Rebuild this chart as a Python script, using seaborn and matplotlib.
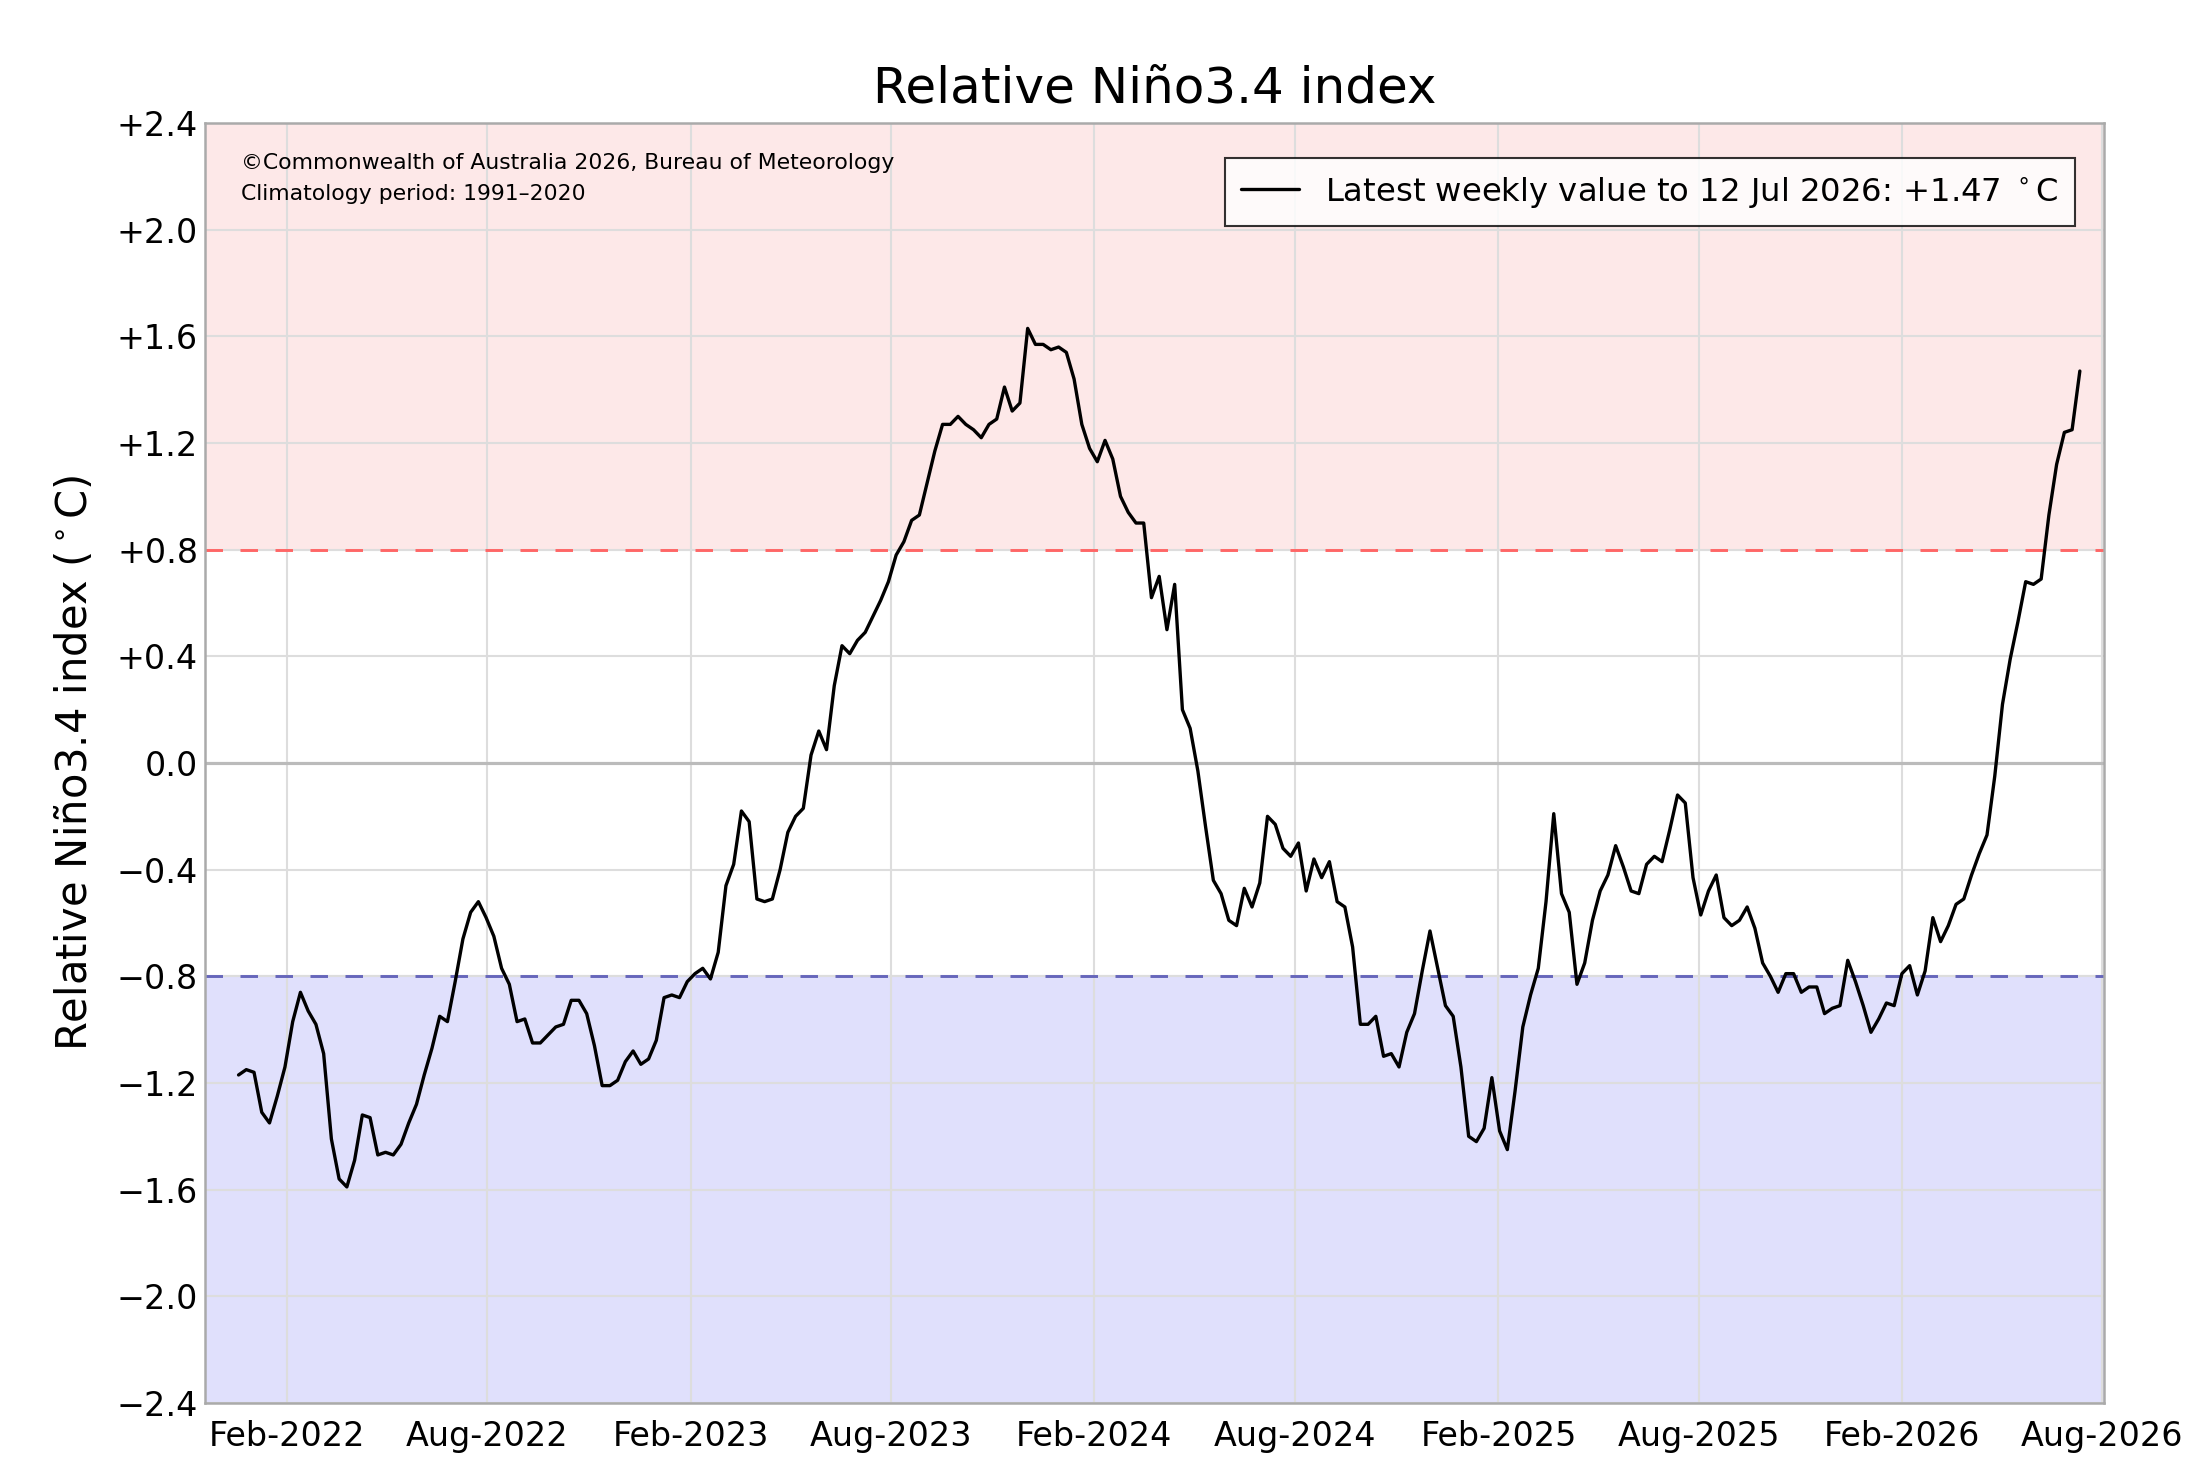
import numpy as np
import pandas as pd
import seaborn as sns
import matplotlib.pyplot as plt
import matplotlib.dates as mdates
from matplotlib.ticker import FuncFormatter

# --- DATA (weekly relative Nino3.4) ---
end_date = "2026-07-12"
nino34 = [
    -1.17, -1.15, -1.16, -1.31, -1.35, -1.25, -1.14, -0.97, -0.86, -0.93,
    -0.98, -1.09, -1.41, -1.56, -1.59, -1.49, -1.32, -1.33, -1.47, -1.46,
    -1.47, -1.43, -1.35, -1.28, -1.17, -1.07, -0.95, -0.97, -0.82, -0.66,
    -0.56, -0.52, -0.58, -0.65, -0.77, -0.83, -0.97, -0.96, -1.05, -1.05,
    -1.02, -0.99, -0.98, -0.89, -0.89, -0.94, -1.06, -1.21, -1.21, -1.19,
    -1.12, -1.08, -1.13, -1.11, -1.04, -0.88, -0.87, -0.88, -0.82, -0.79,
    -0.77, -0.81, -0.71, -0.46, -0.38, -0.18, -0.22, -0.51, -0.52, -0.51,
    -0.40, -0.26, -0.20, -0.17, 0.03, 0.12, 0.05, 0.29, 0.44, 0.41,
    0.46, 0.49, 0.55, 0.61, 0.68, 0.78, 0.83, 0.91, 0.93, 1.05,
    1.17, 1.27, 1.27, 1.30, 1.27, 1.25, 1.22, 1.27, 1.29, 1.41,
    1.32, 1.35, 1.63, 1.57, 1.57, 1.55, 1.56, 1.54, 1.44, 1.27,
    1.18, 1.13, 1.21, 1.14, 1.00, 0.94, 0.90, 0.90, 0.62, 0.70,
    0.50, 0.67, 0.20, 0.13, -0.03, -0.24, -0.44, -0.49, -0.59, -0.61,
    -0.47, -0.54, -0.45, -0.20, -0.23, -0.32, -0.35, -0.30, -0.48, -0.36,
    -0.43, -0.37, -0.52, -0.54, -0.69, -0.98, -0.98, -0.95, -1.10, -1.09,
    -1.14, -1.01, -0.94, -0.78, -0.63, -0.77, -0.91, -0.95, -1.14, -1.40,
    -1.42, -1.37, -1.18, -1.38, -1.45, -1.23, -0.99, -0.87, -0.77, -0.52,
    -0.19, -0.49, -0.56, -0.83, -0.75, -0.59, -0.48, -0.42, -0.31, -0.39,
    -0.48, -0.49, -0.38, -0.35, -0.37, -0.25, -0.12, -0.15, -0.43, -0.57,
    -0.48, -0.42, -0.58, -0.61, -0.59, -0.54, -0.62, -0.75, -0.80, -0.86,
    -0.79, -0.79, -0.86, -0.84, -0.84, -0.94, -0.92, -0.91, -0.74, -0.82,
    -0.91, -1.01, -0.96, -0.90, -0.91, -0.79, -0.76, -0.87, -0.78, -0.58,
    -0.67, -0.61, -0.53, -0.51, -0.42, -0.34, -0.27, -0.05, 0.22, 0.39,
    0.53, 0.68, 0.67, 0.69, 0.93, 1.12, 1.24, 1.25, 1.47,
]
threshold = 0.8
y_ticks = [-2.4, -2.0, -1.6, -1.2, -0.8, -0.4, 0.0, 0.4, 0.8, 1.2, 1.6, 2.0, 2.4]
x_ticks = ["2022-02-01", "2022-08-01", "2023-02-01", "2023-08-01", "2024-02-01",
           "2024-08-01", "2025-02-01", "2025-08-01", "2026-02-01", "2026-08-01"]

dates = pd.date_range(end=end_date, periods=len(nino34), freq="7D")
df = pd.DataFrame({"date": dates, "value": nino34})

sns.set_style("white", {"text.color": "black", "axes.labelcolor": "black",
                        "xtick.color": "black", "ytick.color": "black"})
plt.rcParams['font.family'] = ['DejaVu Sans']

fig = plt.figure(figsize=(2185 / 150, 1483 / 150), dpi=150)
ax = fig.add_axes([0.094, 0.054, 0.869, 0.863])

ax.set_xlim(pd.Timestamp("2021-11-19"), pd.Timestamp("2026-08-03"))
ax.set_ylim(-2.4, 2.4)

# shaded El Nino / La Nina zones
ax.axhspan(threshold, 2.4, color="#fde8e8", zorder=0)
ax.axhspan(-2.4, -threshold, color="#e0e0fc", zorder=0)
ax.axhline(threshold, color="#ff6666", ls=(0, (6, 6)), lw=1.4, zorder=2)
ax.axhline(-threshold, color="#6666bb", ls=(0, (6, 6)), lw=1.4, zorder=2)
ax.axhline(0, color="#bbbbbb", lw=1.5, zorder=1)

ax.set_yticks(y_ticks)
ax.set_xticks(pd.to_datetime(x_ticks))
ax.grid(True, color="#dddddd", lw=1.0, zorder=1)
ax.set_axisbelow(True)

sns.lineplot(data=df, x="date", y="value", color="black", lw=1.6, ax=ax,
             label="Latest weekly value to 12 Jul 2026: %+.2f $^\\circ$C" % nino34[-1], zorder=3)

ax.xaxis.set_major_formatter(mdates.DateFormatter("%b-%Y"))
ax.yaxis.set_major_formatter(FuncFormatter(
    lambda v, p: "0.0" if abs(v) < 1e-9 else ("%+.1f" % v).replace("-", "\u2212")))
ax.tick_params(axis="both", labelsize=16, direction="in", length=6, color="#999999",
               labelcolor="black")
ax.tick_params(axis="x", pad=8)
for s in ax.spines.values():
    s.set_color("#aaaaaa")
    s.set_linewidth(1.2)

ax.set_xlabel("")
ax.set_ylabel("Relative Niño3.4 index ($^\\circ$C)", fontsize=20, labelpad=10, color="black")
ax.set_title("Relative Niño3.4 index", fontsize=24, pad=10, color="black")

ax.text(0.019, 0.977, "©Commonwealth of Australia 2026, Bureau of Meteorology\nClimatology period: 1991\u20132020",
        transform=ax.transAxes, fontsize=10.5, va="top", ha="left", linespacing=1.7, color="black")

leg = ax.legend(loc="upper right", fontsize=15.5, frameon=True, fancybox=False,
                borderpad=0.5, handlelength=1.8, bbox_to_anchor=(0.993, 0.985))
leg.get_frame().set_edgecolor("black")
leg.get_frame().set_linewidth(1.0)
for t in leg.get_texts():
    t.set_color("black")

fig.savefig("out.png", dpi=150)
